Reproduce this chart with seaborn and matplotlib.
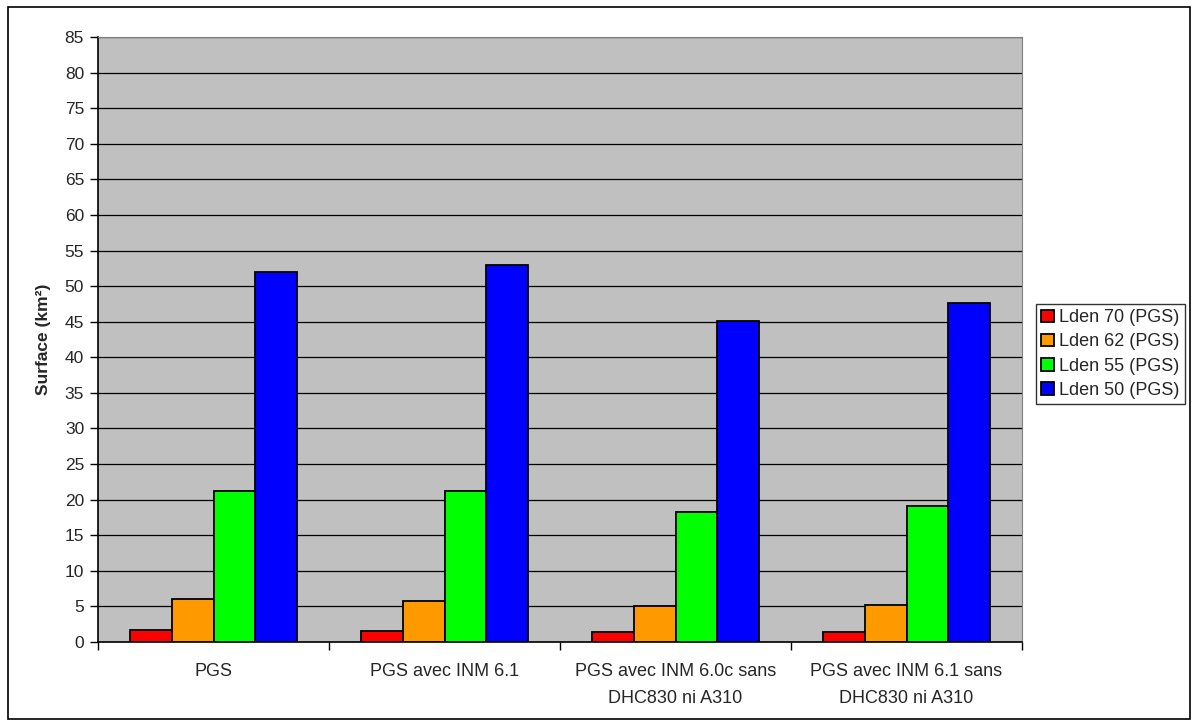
import pandas as pd
import seaborn as sns
import matplotlib
import matplotlib.pyplot as plt
from matplotlib.patches import Rectangle

# --------------------------------------------------------------------------- #
# Data
# --------------------------------------------------------------------------- #
SCENARIOS = [
    "PGS",
    "PGS avec INM 6.1",
    "PGS avec INM 6.0c sans\nDHC830 ni A310",
    "PGS avec INM 6.1 sans\nDHC830 ni A310",
]
SERIES = ["Lden 70 (PGS)", "Lden 62 (PGS)", "Lden 55 (PGS)", "Lden 50 (PGS)"]
LDEN_70 = [1.7, 1.5, 1.4, 1.4]
LDEN_62 = [6.0, 5.8, 5.0, 5.2]
LDEN_55 = [21.2, 21.2, 18.2, 19.1]
LDEN_50 = [52.0, 52.9, 45.1, 47.6]
COLORS = ["#FF0000", "#FF9900", "#00FF00", "#0000FF"]

# --------------------------------------------------------------------------- #
# Build long table
# --------------------------------------------------------------------------- #
rows = []
for name, vals in zip(SERIES, [LDEN_70, LDEN_62, LDEN_55, LDEN_50]):
    for scen, v in zip(SCENARIOS, vals):
        rows.append({"scenario": scen, "serie": name, "surface": v})
df = pd.DataFrame(rows)

sns.set_style("white")
plt.rcParams["font.family"] = ["Liberation Sans", "DejaVu Sans"]

fig = plt.figure(figsize=(11.98, 7.27), dpi=100)
ax = fig.add_axes([98 / 1198, 1 - 642 / 727, (1022 - 98) / 1198, (642 - 37) / 727])
ax.set_facecolor("#C0C0C0")

sns.barplot(
    data=df, x="scenario", y="surface", hue="serie",
    order=SCENARIOS, hue_order=SERIES, palette=COLORS,
    width=0.727, edgecolor="black", linewidth=1.3, saturation=1,
    errorbar=None, ax=ax, zorder=3,
)

# Axes & grid
ax.set_ylim(0, 85)
ax.set_yticks(range(0, 86, 5))
ax.set_xlim(-0.5, 3.5)
ax.yaxis.grid(True, color="black", linewidth=0.9, zorder=0)
ax.set_axisbelow(True)
ax.tick_params(axis="y", direction="out", length=6, width=1, color="black",
               labelsize=12.5, left=True, pad=4)
ax.set_xticks([0, 1, 2, 3])
ax.set_xticklabels(SCENARIOS, fontsize=13, linespacing=1.75)
ax.tick_params(axis="x", which="major", length=0, pad=15)
ax.set_xticks([-0.5, 0.5, 1.5, 2.5, 3.5], minor=True)
ax.tick_params(axis="x", which="minor", direction="out", length=6, width=1,
               color="black", bottom=True)
ax.set_xlabel("")
ax.set_ylabel("Surface (km²)", fontsize=12.5, fontweight="bold", labelpad=10)

for side in ["top", "right"]:
    ax.spines[side].set_color("#808080")
for side in ["left", "bottom"]:
    ax.spines[side].set_color("black")
    ax.spines[side].set_linewidth(1.2)

# Legend
handles, labels = ax.get_legend_handles_labels()
ax.legend_.remove()
leg = fig.legend(
    handles, labels, loc="center left",
    bbox_to_anchor=(1036 / 1198, 1 - 354 / 727),
    frameon=True, fancybox=False, fontsize=13,
    handlelength=0.7, handleheight=0.7, handletextpad=0.3,
    labelspacing=0.4, borderpad=0.3, borderaxespad=0,
)
leg.get_frame().set_edgecolor("black")
leg.get_frame().set_linewidth(1.0)

# Outer chart border
fig.patches.append(Rectangle((8 / 1198, 8 / 727), 1182 / 1198, 712 / 727,
                             transform=fig.transFigure, fill=False,
                             edgecolor="black", linewidth=1.2))

fig.savefig("out.png", dpi=100, facecolor="white")
